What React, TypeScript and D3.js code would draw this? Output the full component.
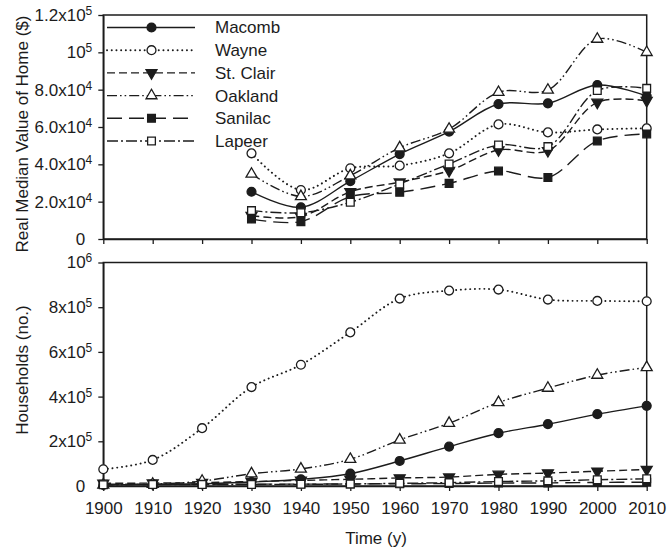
import React, { useEffect, useRef } from "react";
import * as d3 from "d3";

// time axis
const years = [1900, 1910, 1920, 1930, 1940, 1950, 1960, 1970, 1980, 1990, 2000, 2010];
const valueYears = [1930, 1940, 1950, 1960, 1970, 1980, 1990, 2000, 2010];

// real median value of home ($), 1930-2010
const macombValue = [25300, 17000, 31000, 45500, 57500, 72300, 72700, 82500, 76600];
const wayneValue = [45900, 26250, 37900, 39300, 45900, 61400, 57100, 58700, 59300];
const stClairValue = [12500, 12000, 25300, 30500, 36600, 47700, 47300, 73200, 74100];
const oaklandValue = [34800, 22800, 33900, 48900, 58900, 78600, 79800, 107100, 100000];
const sanilacValue = [10700, 9300, 22700, 25000, 29800, 36400, 33000, 52500, 56300];
const lapeerValue = [15200, 14100, 19700, 29500, 40200, 50400, 49500, 79500, 80700];

// households (no.), 1900-2010
const macombHouse = [5000, 7000, 10000, 18000, 30000, 55000, 112000, 176400, 236200, 276500, 321400, 358700];
const wayneHouse = [74900, 116600, 258700, 442600, 542600, 687500, 838600, 874400, 878900, 834100, 828100, 826600];
const stClairHouse = [12000, 13000, 15000, 20000, 25000, 30000, 36000, 40000, 52000, 58000, 66000, 74000];
const oaklandHouse = [5000, 8000, 22000, 55000, 76200, 119600, 206300, 281000, 373700, 438000, 496300, 530600];
const sanilacHouse = [8000, 8000, 8000, 8500, 8500, 9000, 10000, 11000, 13000, 14000, 16000, 17000];
const lapeerHouse = [6000, 6500, 6500, 7000, 7500, 9000, 12000, 15000, 20000, 23000, 28000, 32000];

const countyNames = ["Macomb", "Wayne", "St. Clair", "Oakland", "Sanilac", "Lapeer"];

// tick labels
const valueTicks = [0, 20000, 40000, 60000, 80000, 100000, 120000];
const valueTickLabels = ["0", "2.0x10^4", "4.0x10^4", "6.0x10^4", "8.0x10^4", "10^5", "1.2x10^5"];
const houseTicks = [0, 200000, 400000, 600000, 800000, 1000000];
const houseTickLabels = ["0", "2x10^5", "4x10^5", "6x10^5", "8x10^5", "10^6"];

const FONT = "'Liberation Sans', Arial, sans-serif";
const INK = "#1c1c1c";

// line / marker style for each county
const styles = [
    { dash: null, cap: "butt", symbol: d3.symbolCircle, size: 62, fill: INK, rot: 0 },
    { dash: "0.1,4.6", cap: "round", symbol: d3.symbolCircle, size: 62, fill: "#fff", rot: 0 },
    { dash: "8,4", cap: "butt", symbol: d3.symbolTriangle, size: 52, fill: INK, rot: 180 },
    { dash: "10,3,1.6,3,1.6,3", cap: "butt", symbol: d3.symbolTriangle, size: 52, fill: "#fff", rot: 0 },
    { dash: "15,7", cap: "butt", symbol: d3.symbolSquare, size: 60, fill: INK, rot: 0 },
    { dash: "11,3,2,3", cap: "butt", symbol: d3.symbolSquare, size: 60, fill: "#fff", rot: 0 },
];

const App = () => {
    const container = useRef<SVGSVGElement>(null);

    useEffect(() => {
        const svg = d3.select(container.current);
        svg.selectAll("*").remove();

        const x = d3.scaleLinear().domain([1900, 2010]).range([103.3, 646.7]);
        const yTop = d3.scaleLinear().domain([0, 120000]).range([239, 15]);
        const yBot = d3.scaleLinear().domain([0, 1000000]).range([486, 262.5]);

        const drawPanel = (y, ticks, labels, showYears) => {
            const [y0, y1] = y.range();
            svg.append("rect")
                .attr("x", x(1900)).attr("y", y1)
                .attr("width", x(2010) - x(1900)).attr("height", y0 - y1)
                .attr("fill", "none").attr("stroke", INK).attr("stroke-width", 1.5);

            const ya = svg.append("g")
                .attr("transform", `translate(${x(1900)},0)`)
                .call(d3.axisLeft(y).tickValues(ticks).tickSize(5).tickSizeOuter(0).tickPadding(6));
            ya.select(".domain").attr("stroke", INK).attr("stroke-width", 1.5);
            ya.selectAll(".tick line").attr("stroke", INK).attr("stroke-width", 1.3);
            ya.selectAll(".tick text").each(function (d, i) {
                const el = d3.select(this);
                const [base, exp] = labels[i].split("^");
                el.text(null)
                    .attr("font-family", FONT).attr("font-size", 17).attr("fill", INK);
                el.append("tspan").text(base);
                if (exp) {
                    el.append("tspan").attr("dy", "-0.5em").attr("font-size", 12).text(exp);
                } else {
                    el.attr("dx", -7);
                }
            });

            const xa = svg.append("g")
                .attr("transform", `translate(0,${y0})`)
                .call(d3.axisBottom(x).tickValues(years).tickSize(5).tickSizeOuter(0).tickPadding(11)
                    .tickFormat(showYears ? d3.format("d") : () => ""));
            xa.select(".domain").attr("stroke", INK).attr("stroke-width", 1.5);
            xa.selectAll(".tick line").attr("stroke", INK).attr("stroke-width", 1.3);
            xa.selectAll(".tick text")
                .attr("font-family", FONT).attr("font-size", 17).attr("fill", INK);
        };

        const drawSeries = (xs, vals, y, s) => {
            const pts = xs.map((yr, i) => [x(yr), y(vals[i])]);
            const line = d3.line().curve(d3.curveCatmullRom.alpha(0.5));
            svg.append("path")
                .attr("d", line(pts))
                .attr("fill", "none")
                .attr("stroke", INK)
                .attr("stroke-width", s.cap === "round" ? 1.9 : 1.4)
                .attr("stroke-linecap", s.cap)
                .attr("stroke-dasharray", s.dash);
            svg.selectAll(null)
                .data(pts)
                .enter()
                .append("path")
                .attr("d", d3.symbol().type(s.symbol).size(s.size)())
                .attr("transform", (p) => `translate(${p[0]},${p[1]}) rotate(${s.rot})`)
                .attr("fill", s.fill)
                .attr("stroke", INK)
                .attr("stroke-width", 1.3);
        };

        drawPanel(yTop, valueTicks, valueTickLabels, false);
        drawPanel(yBot, houseTicks, houseTickLabels, true);

        const valueSeries = [macombValue, wayneValue, stClairValue, oaklandValue, sanilacValue, lapeerValue];
        const houseSeries = [macombHouse, wayneHouse, stClairHouse, oaklandHouse, sanilacHouse, lapeerHouse];

        valueSeries.forEach((vals, i) => drawSeries(valueYears, vals, yTop, styles[i]));
        houseSeries.forEach((vals, i) => drawSeries(years, vals, yBot, styles[i]));

        // legend
        countyNames.forEach((name, i) => {
            const s = styles[i];
            const ly = 27.5 + i * 22.7;
            svg.append("line")
                .attr("x1", 107).attr("x2", 195).attr("y1", ly).attr("y2", ly)
                .attr("stroke", INK)
                .attr("stroke-width", s.cap === "round" ? 1.9 : 1.4)
                .attr("stroke-linecap", s.cap)
                .attr("stroke-dasharray", s.dash);
            svg.append("path")
                .attr("d", d3.symbol().type(s.symbol).size(s.size)())
                .attr("transform", `translate(151.5,${ly}) rotate(${s.rot})`)
                .attr("fill", s.fill).attr("stroke", INK).attr("stroke-width", 1.3);
            svg.append("text")
                .attr("x", 215).attr("y", ly).attr("dy", "0.35em")
                .attr("font-family", FONT).attr("font-size", 17).attr("fill", INK)
                .text(name);
        });

        // axis titles
        svg.append("text")
            .attr("transform", `translate(28,134) rotate(-90)`)
            .attr("text-anchor", "middle")
            .attr("font-family", FONT).attr("font-size", 17).attr("fill", INK)
            .text("Real Median Value of Home ($)");
        svg.append("text")
            .attr("transform", `translate(28,370) rotate(-90)`)
            .attr("text-anchor", "middle")
            .attr("font-family", FONT).attr("font-size", 17).attr("fill", INK)
            .text("Households (no.)");
        svg.append("text")
            .attr("x", 376).attr("y", 544)
            .attr("text-anchor", "middle")
            .attr("font-family", FONT).attr("font-size", 17).attr("fill", INK)
            .text("Time (y)");
    }, []);

    return (
        <svg
            ref={container}
            width={670}
            height={551}
            style={{ position: "absolute", left: 0, top: 0, background: "#fff" }}
        />
    );
};

export default App;
